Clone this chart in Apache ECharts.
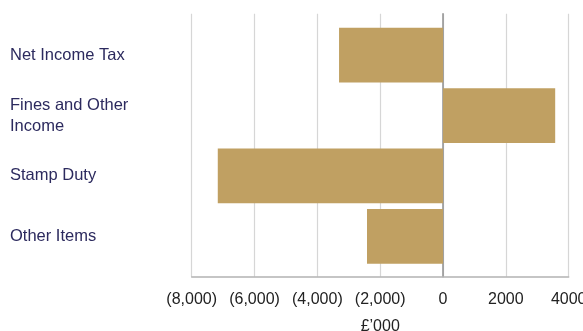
<!DOCTYPE html>
<html>
<head>
<meta charset="utf-8">
<script src="https://cdn.jsdelivr.net/npm/echarts@6/dist/echarts.min.js"></script>
<style>
  html, body { margin: 0; padding: 0; background: #fff; }
  #chart { width: 583px; height: 331px; }
</style>
</head>
<body>
<div id="chart"></div>
<script>
// Income movements, £'000
const categories = ['Net Income Tax', 'Fines and Other\nIncome', 'Stamp Duty', 'Other Items'];
const values = [-3310, 3570, -7170, -2420];
const axisMin = -8000;
const axisMax = 4000;
const axisStep = 2000;
const axisTitle = '£’000';

function fmtTick(v) {
  if (v < 0) return '(' + Math.abs(v).toLocaleString('en-GB') + ')';
  return String(v);
}

const fontFamily = '"Liberation Sans", Arial, Helvetica, sans-serif';
const chart = echarts.init(document.getElementById('chart'), null, { renderer: 'canvas' });

chart.setOption({
  animation: false,
  backgroundColor: '#ffffff',
  grid: [
    // frame: gridlines, tick labels, zero line
    { left: 191.7, right: 14.3, top: 13.7, bottom: 54.3, containLabel: false, outerBoundsMode: 'none' },
    // bars
    { left: 191.7, right: 14.3, top: 25, bottom: 64.5, containLabel: false, outerBoundsMode: 'none' }
  ],
  xAxis: [
    {
      gridIndex: 0,
      type: 'value',
      min: axisMin, max: axisMax, interval: axisStep,
      axisLine: { show: true, onZero: false, lineStyle: { color: '#b3b3b3', width: 1.5 } },
      axisTick: { show: false },
      splitLine: { show: true, lineStyle: { color: '#d6d6d6', width: 1.2 } },
      axisLabel: {
        formatter: fmtTick, margin: 15,
        color: '#222', fontSize: 16, fontFamily: fontFamily
      },
      name: axisTitle,
      nameLocation: 'middle',
      nameGap: 42,
      nameTextStyle: { color: '#222', fontSize: 16, fontFamily: fontFamily }
    },
    {
      gridIndex: 1,
      type: 'value',
      min: axisMin, max: axisMax, interval: axisStep,
      show: false
    }
  ],
  yAxis: [
    {
      gridIndex: 0,
      type: 'value',
      min: 0, max: 1,
      axisLine: { show: true, onZero: true, lineStyle: { color: '#909090', width: 1.5 } },
      axisTick: { show: false },
      axisLabel: { show: false },
      splitLine: { show: false }
    },
    {
      gridIndex: 1,
      type: 'category',
      data: categories,
      inverse: true,
      axisLine: { show: false },
      axisTick: { show: false },
      splitLine: { show: false },
      axisLabel: {
        align: 'left',
        margin: 181.7,
        color: '#2c2a5e',
        fontSize: 16.5,
        lineHeight: 21,
        fontFamily: fontFamily
      }
    }
  ],
  series: [
    {
      type: 'bar',
      xAxisIndex: 1,
      yAxisIndex: 1,
      data: values,
      barCategoryGap: '9.4%',
      itemStyle: { color: '#c0a062' },
      silent: true
    }
  ]
});
</script>
</body>
</html>
